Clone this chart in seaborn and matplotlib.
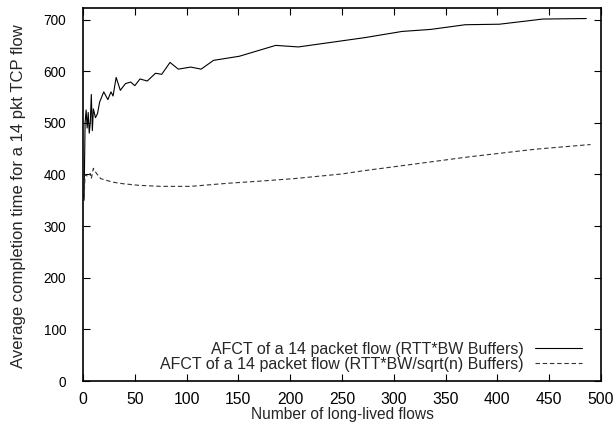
import pandas as pd
import matplotlib
matplotlib.use("Agg")
import matplotlib.pyplot as plt
import seaborn as sns

# AFCT with RTT*BW buffers (solid)
flows_bw = [1, 2, 3, 4, 5, 6, 7, 8, 9, 10, 12, 14, 16, 20, 24, 27, 29, 32, 36, 41, 46, 50,
            55, 62, 70, 76, 84, 92, 104, 114, 126, 151, 186, 208, 240, 272, 308, 336, 369,
            402, 444, 486]
afct_bw = [350, 500, 525, 490, 520, 480, 500, 555, 485, 527, 510, 518, 540, 560, 545, 560,
           552, 588, 563, 576, 579, 572, 585, 581, 596, 594, 617, 604, 608, 604, 621, 629,
           650, 647, 656, 665, 677, 681, 690, 691, 701, 702]

# AFCT with RTT*BW/sqrt(n) buffers (dashed)
flows_sqrt = [1, 2, 3, 5, 7, 8, 10, 13, 17, 22, 29, 39, 54, 75, 104, 140, 170, 204, 250,
              270, 308, 372, 437, 490]
afct_sqrt = [355, 400, 398, 396, 402, 392, 412, 402, 392, 389, 385, 382, 379, 377, 377, 383,
             387, 392, 401, 407, 417, 434, 449, 458]

label_bw = 'AFCT of a 14 packet flow (RTT*BW Buffers)'
label_sqrt = 'AFCT of a 14 packet flow (RTT*BW/sqrt(n) Buffers)'

df_bw = pd.DataFrame({'flows': flows_bw, 'afct': afct_bw})
df_sqrt = pd.DataFrame({'flows': flows_sqrt, 'afct': afct_sqrt})

sns.set_style('ticks')
plt.rcParams['font.family'] = ['Liberation Sans', 'DejaVu Sans']

fig = plt.figure(figsize=(6.15, 4.32), dpi=100)
ax = fig.add_axes([0.135, 0.118, 0.842, 0.863])

sns.lineplot(data=df_bw, x='flows', y='afct', ax=ax, color='black', linewidth=0.8,
             estimator=None, label=label_bw)
sns.lineplot(data=df_sqrt, x='flows', y='afct', ax=ax, color='#333333', linewidth=0.8,
             estimator=None, label=label_sqrt)
ax.lines[1].set_dashes([4, 2.5])

ax.set_xlim(0, 500)
ax.set_ylim(0, 722)
ax.set_xticks(range(0, 501, 50))
ax.set_yticks(range(0, 701, 100))
ax.tick_params(direction='in', length=5, width=0.8, top=True, right=True, colors='black')
ax.tick_params(axis='x', labelsize=11.3, pad=8)
ax.tick_params(axis='y', labelsize=9.8, pad=12)
for sp in ax.spines.values():
    sp.set_visible(True)
    sp.set_linewidth(1.2)
    sp.set_color('black')

ax.set_xlabel('Number of long-lived flows', fontsize=11.2, labelpad=0)
ax.set_ylabel('Average completion time for a 14 pkt TCP flow', fontsize=12)
ax.yaxis.set_label_coords(-0.11, 0.497)

ax.legend(loc='lower right', bbox_to_anchor=(0.963, 0.025), markerfirst=False,
          frameon=False, fontsize=11.5, handlelength=2.95, handletextpad=0.7,
          labelspacing=0.0, borderpad=0, borderaxespad=0)

fig.savefig('out.png', dpi=100)
